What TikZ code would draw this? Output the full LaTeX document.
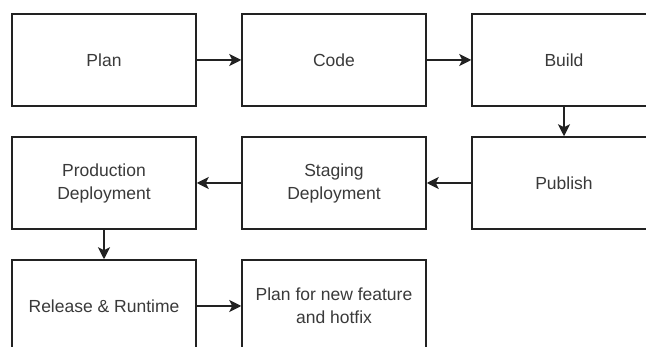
\documentclass[tikz,border=0pt]{standalone}
\usepackage{fontspec}
\setmainfont{Liberation Sans}
\usepackage{xcolor}
\usepackage{tikz}
\usetikzlibrary{positioning}
\usetikzlibrary{arrows, arrows.meta}

\definecolor{boxline}{HTML}{222222}
\definecolor{boxtext}{HTML}{3A3A3A}

\tikzset{
  stagebox/.style={draw=boxline, line width=1.5pt, fill=white,
    minimum width=184pt, minimum height=92pt, inner sep=0pt,
    align=center, text=boxtext, font=\fontsize{17.5}{23}\selectfont},
  flow/.style={draw=boxline, line width=1.5pt,
    -{Stealth[length=12pt, width=12pt, inset=3pt]}}
}

\begin{document}
\begin{tikzpicture}[x=1pt, y=-1pt]
  \def\colA{104}
  \def\colB{334}
  \def\colC{564}
  \def\rowA{60}
  \def\rowB{183}
  \def\rowC{306}

  \useasboundingbox (0,0) rectangle (646,347);
  \clip (0,0) rectangle (646,347);

  % first row
  \node[stagebox] (plan)    at (\colA,\rowA) {Plan};
  \node[stagebox] (code)    at (\colB,\rowA) {Code};
  \node[stagebox] (build)   at (\colC,\rowA) {Build};

  % second row, runs back to the left
  \node[stagebox] (publish) at (\colC,\rowB) {Publish};
  \node[stagebox] (staging) at (\colB,\rowB) {Staging\\Deployment};
  \node[stagebox] (prod)    at (\colA,\rowB) {Production\\Deployment};

  % third row
  \node[stagebox] (release) at (\colA,\rowC) {Release \& Runtime};
  \node[stagebox] (next)    at (\colB,\rowC) {Plan for new feature\\and hotfix};

  \draw[flow] (plan) -- (code);
  \draw[flow] (code) -- (build);
  \draw[flow] (build) -- (publish);
  \draw[flow] (publish) -- (staging);
  \draw[flow] (staging) -- (prod);
  \draw[flow] (prod) -- (release);
  \draw[flow] (release) -- (next);
\end{tikzpicture}
\end{document}
